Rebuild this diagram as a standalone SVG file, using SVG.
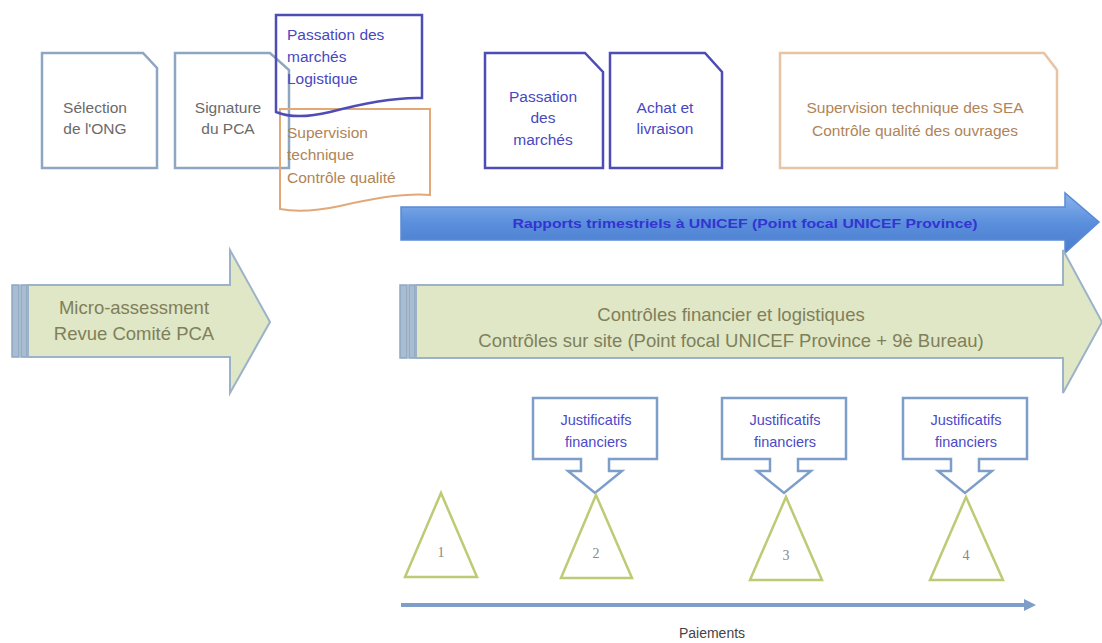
<svg xmlns="http://www.w3.org/2000/svg" width="1102" height="643" viewBox="0 0 1102 643">
<style>
text{font-family:"Liberation Sans",Arial,sans-serif;}
.gbox{fill:none;stroke:#8ea6c2;stroke-width:2.5;}
.bbox{fill:none;stroke:#4d4db5;stroke-width:2.5;}
.obox{fill:none;stroke:#e8c4a4;stroke-width:2.5;}
.obox2{fill:none;stroke:#e2a878;stroke-width:2;}
.gt{fill:#6a6a6a;font-size:15.5px;text-anchor:middle;}
.bt{fill:#4848c0;font-size:15.5px;}
.ot{fill:#b08458;font-size:15.5px;}
.arr{fill:#e0e7c6;stroke:#9cb2c8;stroke-width:2;}
.bar{fill:#a9bdd1;stroke:#8ea6c2;stroke-width:1.5;}
.at{fill:#7f7f5a;font-size:18.5px;text-anchor:middle;}
.call{fill:#fff;stroke:#7d9ec8;stroke-width:2.5;}
.ct{fill:#4a4ac8;font-size:14.5px;text-anchor:middle;}
.tri{fill:#fff;stroke:#bccb74;stroke-width:2.5;}
.tn{fill:#888;font-family:"Liberation Serif",serif;font-size:14px;text-anchor:middle;}
</style>
<defs>
<linearGradient id="bg" x1="0" y1="0" x2="0" y2="1">
<stop offset="0" stop-color="#8cb4ec"/>
<stop offset="0.5" stop-color="#5a8fdc"/>
<stop offset="1" stop-color="#4a7ccc"/>
</linearGradient>
<marker id="pa" viewBox="0 0 10 10" refX="5" refY="5" markerWidth="3" markerHeight="3" orient="auto">
<path d="M0,0 L10,5 L0,10 Z" fill="#7d9ec8"/>
</marker>
</defs>
<rect width="1102" height="643" fill="#fff"/>

<g id="selection">
<path class="gbox" d="M42,53 H143 L157,68 V168 H42 Z"/>
<text class="gt" x="95" y="113">Sélection</text>
<text class="gt" x="95" y="134">de l'ONG</text>
</g>
<g id="signature">
<path class="gbox" d="M175,53 H270 L289,70 V168 H175 Z"/>
<text class="gt" x="228" y="113">Signature</text>
<text class="gt" x="228" y="134">du PCA</text>
</g>
<g id="supervision1">
<path class="obox2" d="M280,109 H430 V195 C405,193 370,199 340,206 C312,212 295,212 280,209 Z"/>
<text class="ot" x="287" y="138">Supervision</text>
<text class="ot" x="287" y="160">technique</text>
<text class="ot" x="287" y="183">Contrôle qualité</text>
</g>
<g id="passation1">
<path class="bbox" d="M276,15 H422 V98 C395,97 360,104 330,112 C305,118 288,117 276,112 Z"/>
<text class="bt" x="287" y="40">Passation des</text>
<text class="bt" x="287" y="62">marchés</text>
<text class="bt" x="287" y="84">Logistique</text>
</g>
<g id="passation2">
<path class="bbox" d="M485,53 H585 L603,72 V168 H485 Z"/>
<text class="bt" x="543" y="102" text-anchor="middle">Passation</text>
<text class="bt" x="543" y="123" text-anchor="middle">des</text>
<text class="bt" x="543" y="145" text-anchor="middle">marchés</text>
</g>
<g id="achat">
<path class="bbox" d="M610,53 H705 L722,72 V168 H610 Z"/>
<text class="bt" x="665" y="113" text-anchor="middle">Achat et</text>
<text class="bt" x="665" y="134" text-anchor="middle">livraison</text>
</g>
<g id="supervision2">
<path class="obox" d="M780,53 H1044 L1057,70 V168 H780 Z"/>
<text class="ot" x="915" y="113" text-anchor="middle">Supervision technique des SEA</text>
<text class="ot" x="915" y="136" text-anchor="middle">Contrôle qualité des ouvrages</text>
</g>

<g id="rapports">
<path d="M401,207 H1065 V193 L1099,222 L1065,253 V240 H401 Z" fill="url(#bg)" stroke="#5a8ad6" stroke-width="1.5"/>
<text x="745" y="228" fill="#3434d0" font-size="13.5" font-weight="bold" text-anchor="middle" textLength="465" lengthAdjust="spacingAndGlyphs">Rapports trimestriels à UNICEF (Point focal UNICEF Province)</text>
</g>

<g id="micro">
<rect class="bar" x="12" y="285" width="7" height="72"/>
<rect class="bar" x="21" y="285" width="6" height="72" fill="#c9d6e0"/>
<path class="arr" d="M28,285 H230 V250 L270,322 L230,393 V357 H28 Z"/>
<text class="at" x="134" y="314" font-size="20">Micro-assessment</text>
<text class="at" x="134" y="340" font-size="20">Revue Comité PCA</text>
</g>

<g id="controles">
<rect class="bar" x="400" y="285" width="7" height="73"/>
<rect class="bar" x="409" y="285" width="6" height="73" fill="#c9d6e0"/>
<path class="arr" d="M416,285 H1063 V250 L1102,322 L1063,393 V358 H416 Z"/>
<text class="at" x="731" y="321">Contrôles financier et logistiques</text>
<text class="at" x="731" y="347">Contrôles sur site (Point focal UNICEF Province + 9è Bureau)</text>
</g>

<g id="justif1">
<path class="call" d="M533,398 H657 V459 H609 V471 H622 L595,493 L568,471 H581 V459 H533 Z"/>
<text class="ct" x="596" y="425">Justificatifs</text>
<text class="ct" x="596" y="447">financiers</text>
</g>
<g id="justif2">
<path class="call" d="M722,398 H846 V459 H798 V471 H811 L784,493 L757,471 H770 V459 H722 Z"/>
<text class="ct" x="785" y="425">Justificatifs</text>
<text class="ct" x="785" y="447">financiers</text>
</g>
<g id="justif3">
<path class="call" d="M903,398 H1027 V459 H979 V471 H992 L965,493 L938,471 H951 V459 H903 Z"/>
<text class="ct" x="966" y="425">Justificatifs</text>
<text class="ct" x="966" y="447">financiers</text>
</g>

<g id="p1">
<path class="tri" d="M441,493 L477,577 H405 Z"/>
<text class="tn" x="441" y="557">1</text>
</g>
<g id="p2">
<path class="tri" d="M596,495 L632,578 H561 Z"/>
<text class="tn" x="596" y="558">2</text>
</g>
<g id="p3">
<path class="tri" d="M786,497 L822,580 H750 Z"/>
<text class="tn" x="786" y="560">3</text>
</g>
<g id="p4">
<path class="tri" d="M966,497 L1003,580 H930 Z"/>
<text class="tn" x="966" y="560">4</text>
</g>

<g id="connectors">
<line x1="401" y1="605" x2="1030" y2="605" stroke="#7d9ec8" stroke-width="4" marker-end="url(#pa)"/>
</g>
<text x="712" y="638" fill="#444" font-size="14" text-anchor="middle">Paiements</text>
</svg>
